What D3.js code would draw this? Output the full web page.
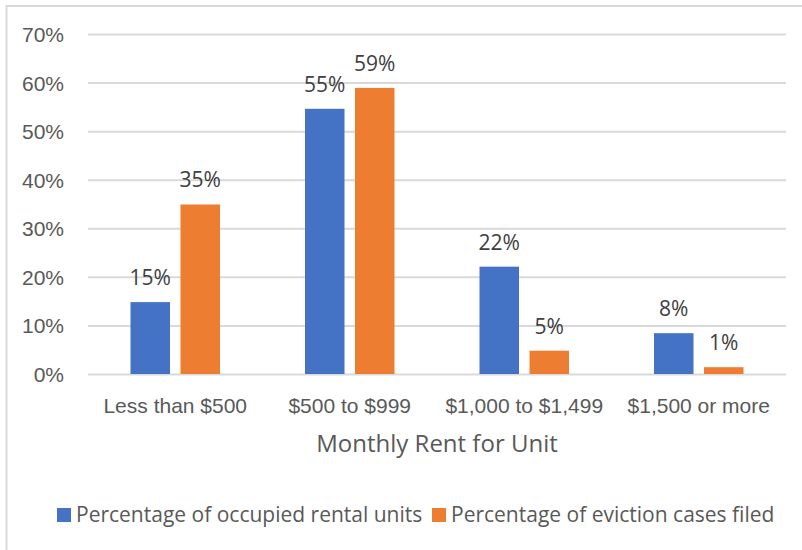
<!DOCTYPE html>
<html>
<head>
<meta charset="utf-8">
<script src="https://cdn.jsdelivr.net/npm/d3@7"></script>
<style>
  html, body { margin: 0; padding: 0; background: #fff; }
  svg { display: block; font-family: "Open Sans", "Noto Sans", sans-serif; }
</style>
</head>
<body>
<svg id="chart" width="802" height="550"></svg>
<script>
const categories = ["Less than $500", "$500 to $999", "$1,000 to $1,499", "$1,500 or more"];
const seriesNames = ["Percentage of occupied rental units", "Percentage of eviction cases filed"];
const occupiedUnits = [14.8, 54.6, 22.1, 8.4];
const evictionCases = [34.9, 58.9, 4.8, 1.4];
const occupiedLabels = ["15%", "55%", "22%", "8%"];
const evictionLabels = ["35%", "59%", "5%", "1%"];
const yTicks = [0, 10, 20, 30, 40, 50, 60, 70];
const colors = ["#4472C4", "#ED7D31"];
const axisTitle = "Monthly Rent for Unit";

const seriesValues = [occupiedUnits, evictionCases];
const seriesLabels = [occupiedLabels, evictionLabels];

const svg = d3.select("#chart");

// chart border (top and left visible)
svg.append("line").attr("x1", 6.5).attr("x2", 802).attr("y1", 6).attr("y2", 6)
  .attr("stroke", "#d9d9d9").attr("stroke-width", 2);
svg.append("line").attr("x1", 6.5).attr("x2", 6.5).attr("y1", 5).attr("y2", 550)
  .attr("stroke", "#d9d9d9").attr("stroke-width", 2);

const plotLeft = 88, plotRight = 786, plotTop = 34, plotBottom = 374;

const y = d3.scaleLinear().domain([0, 70]).range([plotBottom, plotTop]);
const x0 = d3.scaleBand().domain(categories).range([plotLeft, plotRight]).padding(0);
const groupW = 89.5;
const off = (x0.bandwidth() - groupW) / 2;
const x1 = d3.scaleBand().domain(d3.range(seriesNames.length)).range([off, off + groupW]).paddingInner(0.21).paddingOuter(0);

// gridlines
const yAxis = d3.axisLeft(y).tickValues(yTicks).tickSize(-(plotRight - plotLeft)).tickFormat(d => d + "%").tickPadding(24);
const gy = svg.append("g").attr("transform", `translate(${plotLeft},0)`).call(yAxis);
gy.select(".domain").remove();
gy.selectAll(".tick line").attr("stroke", "#d9d9d9").attr("stroke-width", 2);
gy.selectAll(".tick text").attr("fill", "#595959").attr("font-size", 21)
  .attr("x", -24).attr("dy", "0.36em");

// bars
const groups = svg.append("g").selectAll("g").data(categories).join("g")
  .attr("transform", c => `translate(${x0(c)},0)`);

groups.each(function(c, ci) {
  const g = d3.select(this);
  seriesValues.forEach((vals, si) => {
    g.append("rect")
      .attr("x", x1(si))
      .attr("y", y(vals[ci]))
      .attr("width", x1.bandwidth())
      .attr("height", y(0) - y(vals[ci]))
      .attr("fill", colors[si]);
    g.append("text")
      .attr("x", x1(si) + x1.bandwidth() / 2)
      .attr("y", y(vals[ci]) - 17)
      .attr("text-anchor", "middle")
      .attr("fill", "#404040")
      .attr("font-size", 21)
      .text(seriesLabels[si][ci]);
  });
});

// x axis labels
const xAxis = d3.axisBottom(x0).tickSize(0).tickPadding(0);
const gx = svg.append("g").attr("transform", `translate(0,${plotBottom})`).call(xAxis);
gx.select(".domain").remove();
gx.selectAll(".tick text").attr("fill", "#595959").attr("font-size", 21)
  .attr("y", 39).attr("dy", 0);

// axis title
svg.append("text")
  .attr("x", (plotLeft + plotRight) / 2)
  .attr("y", 452)
  .attr("text-anchor", "middle")
  .attr("fill", "#595959")
  .attr("font-size", 24)
  .text(axisTitle);

// legend
const legendItems = [
  { x: 57, name: seriesNames[0], color: colors[0] },
  { x: 432, name: seriesNames[1], color: colors[1] }
];
const lg = svg.append("g");
legendItems.forEach(it => {
  lg.append("rect").attr("x", it.x).attr("y", 508).attr("width", 14).attr("height", 14).attr("fill", it.color);
  lg.append("text").attr("x", it.x + 19).attr("y", 522).attr("fill", "#595959")
    .attr("font-size", 21).text(it.name);
});
</script>
</body>
</html>
